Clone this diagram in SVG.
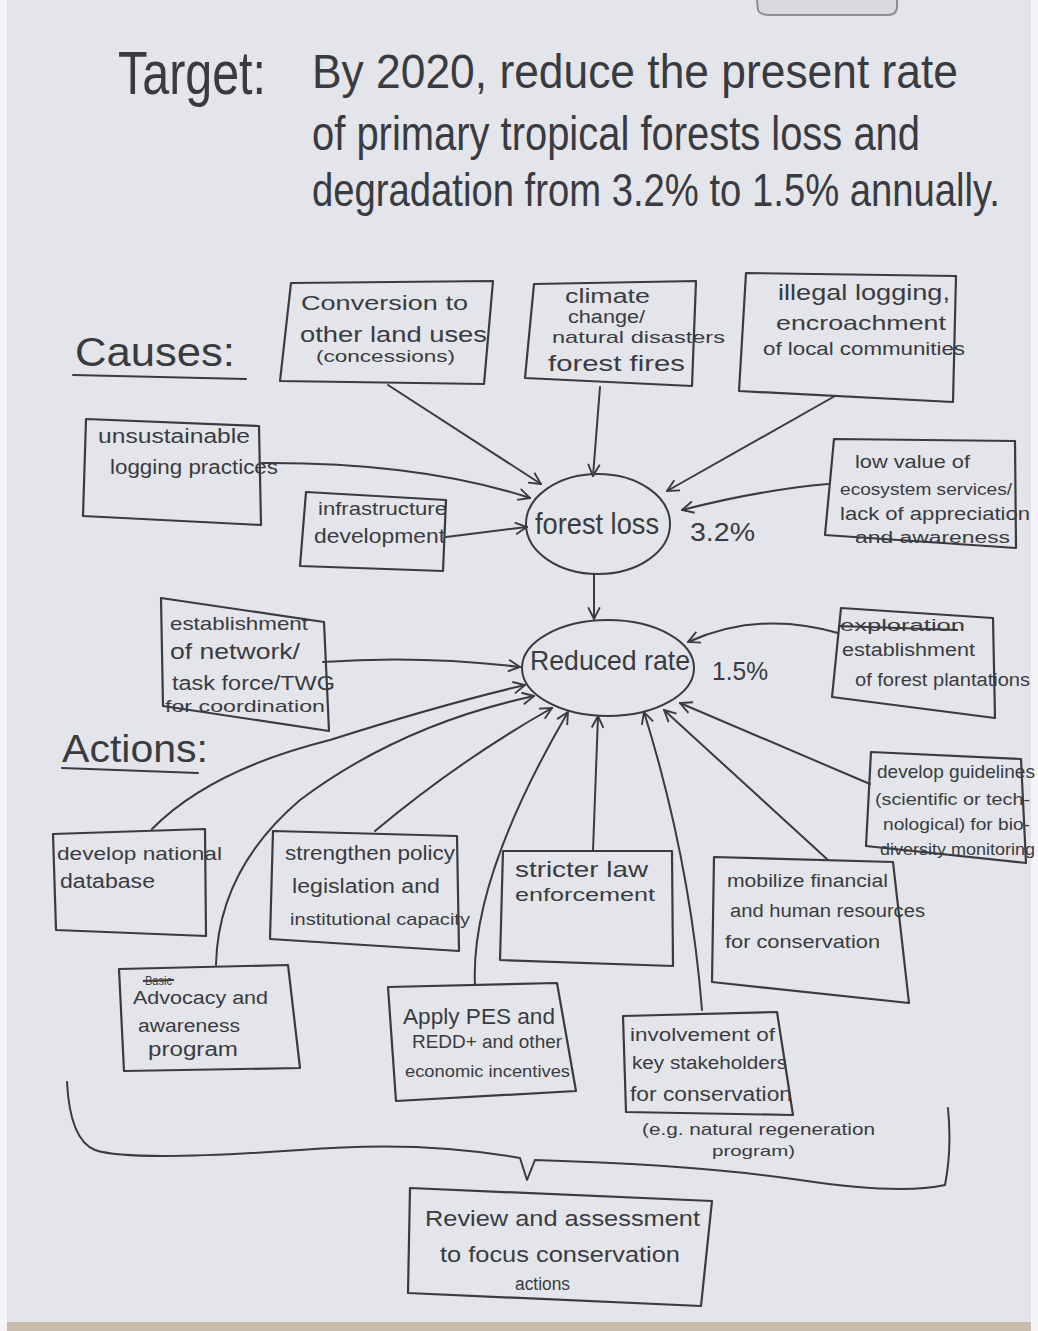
<svg xmlns="http://www.w3.org/2000/svg" width="1038" height="1331" viewBox="0 0 1038 1331">
  <style>
    .ink { fill: none; stroke: #3a3b40; stroke-width: 2; stroke-linejoin: round; stroke-linecap: round; }
    .box { fill: none; stroke: #3a3b40; stroke-width: 2.2; stroke-linejoin: round; }
    .t { font-family: "Liberation Sans", "DejaVu Sans", sans-serif; fill: #3a3b40; }
    .strike { stroke: #3a3b40; stroke-width: 2; }
  </style>
  <defs>
    <marker id="arrow" viewBox="0 0 12 12" refX="11" refY="6" markerWidth="14" markerHeight="14" markerUnits="userSpaceOnUse" orient="auto">
      <path d="M1,1 L11,6 L1,11" fill="none" stroke="#3a3b40" stroke-width="1.6"/>
    </marker>
  </defs>

  <!-- paper -->
  <rect x="0" y="0" width="1038" height="1331" fill="#f4f4f6"/>
  <rect x="7" y="0" width="1024" height="1324" fill="#e3e5ea"/>
  <rect x="7" y="1322" width="1024" height="9" fill="#c9bcad"/>
  <!-- clip holding the sheet at the top edge -->
  <path d="M757,0 L758,10 Q760,15 770,15 L888,15 Q896,15 897,8 L897,0" fill="#d9dadd" stroke="#8d8e92" stroke-width="2"/>

  <!-- heading -->
  <g id="target">
    <text class="t" x="118" y="94" font-size="62" textLength="148" lengthAdjust="spacingAndGlyphs">Target:</text>
    <text class="t" transform="translate(312,88) scale(1,1.25)" font-size="38" textLength="646" lengthAdjust="spacingAndGlyphs">By 2020, reduce the present rate</text>
    <text class="t" transform="translate(312,150) scale(1,1.25)" font-size="38" textLength="608" lengthAdjust="spacingAndGlyphs">of primary tropical forests loss and</text>
    <text class="t" transform="translate(312,206) scale(1,1.25)" font-size="37" textLength="688" lengthAdjust="spacingAndGlyphs">degradation from 3.2% to 1.5% annually.</text>
  </g>

  <!-- section labels -->
  <g id="causes-label">
    <text class="t" x="75" y="366" font-size="40" textLength="160" lengthAdjust="spacingAndGlyphs">Causes:</text>
    <path class="ink" d="M73,375 L246,379"/>
  </g>
  <g id="actions-label">
    <text class="t" x="62" y="762" font-size="38" textLength="146" lengthAdjust="spacingAndGlyphs">Actions:</text>
    <path class="ink" d="M62,768 L198,773"/>
  </g>

  <!-- cause nodes -->
  <g id="conversion">
    <path class="box" d="M291,283 L493,281 L484,384 L280,381 Z"/>
    <text class="t" x="301" y="310" font-size="21" textLength="167" lengthAdjust="spacingAndGlyphs">Conversion to</text>
    <text class="t" x="300" y="342" font-size="22" textLength="187" lengthAdjust="spacingAndGlyphs">other land uses</text>
    <text class="t" x="316" y="362" font-size="16" textLength="139" lengthAdjust="spacingAndGlyphs">(concessions)</text>
  </g>
  <g id="climate">
    <path class="box" d="M534,284 L696,281 L692,386 L525,378 Z"/>
    <text class="t" x="565" y="303" font-size="20" textLength="85" lengthAdjust="spacingAndGlyphs">climate</text>
    <text class="t" x="568" y="323" font-size="18" textLength="77" lengthAdjust="spacingAndGlyphs">change/</text>
    <text class="t" x="552" y="343" font-size="17" textLength="173" lengthAdjust="spacingAndGlyphs">natural disasters</text>
    <text class="t" x="548" y="371" font-size="22" textLength="137" lengthAdjust="spacingAndGlyphs">forest fires</text>
  </g>
  <g id="illegal">
    <path class="box" d="M746,273 L956,276 L953,402 L739,391 Z"/>
    <text class="t" x="778" y="300" font-size="22" textLength="172" lengthAdjust="spacingAndGlyphs">illegal logging,</text>
    <text class="t" x="776" y="330" font-size="21" textLength="170" lengthAdjust="spacingAndGlyphs">encroachment</text>
    <text class="t" x="763" y="355" font-size="18" textLength="202" lengthAdjust="spacingAndGlyphs">of local communities</text>
  </g>
  <g id="unsustainable">
    <path class="box" d="M86,419 L259,426 L261,525 L83,516 Z"/>
    <text class="t" x="98" y="443" font-size="20" textLength="152" lengthAdjust="spacingAndGlyphs">unsustainable</text>
    <text class="t" x="110" y="474" font-size="20" textLength="168" lengthAdjust="spacingAndGlyphs">logging practices</text>
  </g>
  <g id="infrastructure">
    <path class="box" d="M306,492 L446,500 L443,571 L300,566 Z"/>
    <text class="t" x="318" y="515" font-size="18" textLength="129" lengthAdjust="spacingAndGlyphs">infrastructure</text>
    <text class="t" x="314" y="543" font-size="20" textLength="131" lengthAdjust="spacingAndGlyphs">development</text>
  </g>
  <g id="low-value">
    <path class="box" d="M834,439 L1015,441 L1016,548 L825,535 Z"/>
    <text class="t" x="855" y="468" font-size="19" textLength="115" lengthAdjust="spacingAndGlyphs">low value of</text>
    <text class="t" x="840" y="495" font-size="17" textLength="172" lengthAdjust="spacingAndGlyphs">ecosystem services/</text>
    <text class="t" x="840" y="520" font-size="19" textLength="190" lengthAdjust="spacingAndGlyphs">lack of appreciation</text>
    <text class="t" x="855" y="543" font-size="16" textLength="155" lengthAdjust="spacingAndGlyphs">and awareness</text>
  </g>

  <!-- central ellipses -->
  <g id="forest-loss">
    <ellipse class="ink" cx="598" cy="524" rx="72" ry="50"/>
    <text class="t" x="535" y="534" font-size="30" textLength="124" lengthAdjust="spacingAndGlyphs">forest loss</text>
    <text class="t" x="690" y="541" font-size="26" textLength="65" lengthAdjust="spacingAndGlyphs">3.2%</text>
  </g>
  <g id="reduced-rate">
    <ellipse class="ink" cx="608" cy="668" rx="86" ry="48"/>
    <text class="t" x="530" y="670" font-size="28" textLength="160" lengthAdjust="spacingAndGlyphs">Reduced rate</text>
    <text class="t" x="712" y="680" font-size="26" textLength="56" lengthAdjust="spacingAndGlyphs">1.5%</text>
  </g>

  <!-- action nodes -->
  <g id="network">
    <path class="box" d="M161,598 L324,622 L329,731 L163,706 Z"/>
    <text class="t" x="170" y="630" font-size="19" textLength="138" lengthAdjust="spacingAndGlyphs">establishment</text>
    <text class="t" x="170" y="659" font-size="22" textLength="130" lengthAdjust="spacingAndGlyphs">of network/</text>
    <text class="t" x="172" y="690" font-size="20" textLength="163" lengthAdjust="spacingAndGlyphs">task force/TWG</text>
    <text class="t" x="165" y="712" font-size="17" textLength="160" lengthAdjust="spacingAndGlyphs">for coordination</text>
  </g>
  <g id="plantations">
    <path class="box" d="M841,608 L993,618 L995,718 L832,697 Z"/>
    <text class="t" x="840" y="631" font-size="16" textLength="125" lengthAdjust="spacingAndGlyphs">exploration</text>
    <path class="strike" d="M838,626 L958,630"/>
    <text class="t" x="842" y="656" font-size="18" textLength="133" lengthAdjust="spacingAndGlyphs">establishment</text>
    <text class="t" x="855" y="686" font-size="18" textLength="175" lengthAdjust="spacingAndGlyphs">of forest plantations</text>
  </g>
  <g id="guidelines">
    <path class="box" d="M871,752 L1021,759 L1026,863 L866,846 Z"/>
    <text class="t" x="877" y="778" font-size="19" textLength="158" lengthAdjust="spacingAndGlyphs">develop guidelines</text>
    <text class="t" x="875" y="805" font-size="17" textLength="155" lengthAdjust="spacingAndGlyphs">(scientific or tech-</text>
    <text class="t" x="883" y="830" font-size="17" textLength="147" lengthAdjust="spacingAndGlyphs">nological) for bio-</text>
    <text class="t" x="880" y="855" font-size="17" textLength="155" lengthAdjust="spacingAndGlyphs">diversity monitoring</text>
  </g>
  <g id="database">
    <path class="box" d="M53,834 L205,829 L206,936 L56,930 Z"/>
    <text class="t" x="57" y="860" font-size="19" textLength="165" lengthAdjust="spacingAndGlyphs">develop national</text>
    <text class="t" x="60" y="888" font-size="20" textLength="95" lengthAdjust="spacingAndGlyphs">database</text>
  </g>
  <g id="policy">
    <path class="box" d="M273,831 L457,836 L459,951 L270,939 Z"/>
    <text class="t" x="285" y="860" font-size="20" textLength="170" lengthAdjust="spacingAndGlyphs">strengthen policy</text>
    <text class="t" x="292" y="893" font-size="20" textLength="148" lengthAdjust="spacingAndGlyphs">legislation and</text>
    <text class="t" x="290" y="925" font-size="17" textLength="180" lengthAdjust="spacingAndGlyphs">institutional capacity</text>
  </g>
  <g id="law">
    <path class="box" d="M503,851 L672,851 L673,966 L500,960 Z"/>
    <text class="t" x="515" y="877" font-size="22" textLength="133" lengthAdjust="spacingAndGlyphs">stricter law</text>
    <text class="t" x="515" y="901" font-size="19" textLength="140" lengthAdjust="spacingAndGlyphs">enforcement</text>
  </g>
  <g id="mobilize">
    <path class="box" d="M714,857 L893,862 L909,1003 L712,982 Z"/>
    <text class="t" x="727" y="887" font-size="18" textLength="161" lengthAdjust="spacingAndGlyphs">mobilize financial</text>
    <text class="t" x="730" y="917" font-size="18" textLength="195" lengthAdjust="spacingAndGlyphs">and human resources</text>
    <text class="t" x="725" y="948" font-size="19" textLength="155" lengthAdjust="spacingAndGlyphs">for conservation</text>
  </g>
  <g id="advocacy">
    <path class="box" d="M119,969 L288,965 L300,1068 L124,1071 Z"/>
    <text class="t" x="145" y="985" font-size="12" textLength="27" lengthAdjust="spacingAndGlyphs">Basic</text>
    <path class="strike" d="M143,981 L174,980"/>
    <text class="t" x="133" y="1004" font-size="18" textLength="135" lengthAdjust="spacingAndGlyphs">Advocacy and</text>
    <text class="t" x="138" y="1032" font-size="18" textLength="102" lengthAdjust="spacingAndGlyphs">awareness</text>
    <text class="t" x="148" y="1056" font-size="20" textLength="90" lengthAdjust="spacingAndGlyphs">program</text>
  </g>
  <g id="pes">
    <path class="box" d="M388,987 L557,983 L576,1091 L396,1101 Z"/>
    <text class="t" x="403" y="1024" font-size="22" textLength="152" lengthAdjust="spacingAndGlyphs">Apply PES and</text>
    <text class="t" x="412" y="1048" font-size="18" textLength="150" lengthAdjust="spacingAndGlyphs">REDD+ and other</text>
    <text class="t" x="405" y="1077" font-size="16" textLength="165" lengthAdjust="spacingAndGlyphs">economic incentives</text>
  </g>
  <g id="stakeholders">
    <path class="box" d="M623,1016 L777,1012 L793,1115 L626,1112 Z"/>
    <text class="t" x="630" y="1041" font-size="18" textLength="145" lengthAdjust="spacingAndGlyphs">involvement of</text>
    <text class="t" x="632" y="1069" font-size="18" textLength="155" lengthAdjust="spacingAndGlyphs">key stakeholders</text>
    <text class="t" x="630" y="1101" font-size="20" textLength="162" lengthAdjust="spacingAndGlyphs">for conservation</text>
    <text class="t" x="642" y="1135" font-size="17" textLength="233" lengthAdjust="spacingAndGlyphs">(e.g. natural regeneration</text>
    <text class="t" x="712" y="1156" font-size="15" textLength="83" lengthAdjust="spacingAndGlyphs">program)</text>
  </g>
  <g id="review">
    <path class="box" d="M410,1188 L712,1201 L701,1306 L408,1293 Z"/>
    <text class="t" x="425" y="1226" font-size="22" textLength="275" lengthAdjust="spacingAndGlyphs">Review and assessment</text>
    <text class="t" x="440" y="1262" font-size="22" textLength="240" lengthAdjust="spacingAndGlyphs">to focus conservation</text>
    <text class="t" x="515" y="1290" font-size="18" textLength="55" lengthAdjust="spacingAndGlyphs">actions</text>
  </g>

  <!-- connectors -->
  <g id="connectors" class="ink">
    <!-- causes into forest loss -->
    <path d="M388,385 L541,484" marker-end="url(#arrow)"/>
    <path d="M600,387 L593,476" marker-end="url(#arrow)"/>
    <path d="M835,396 L667,491" marker-end="url(#arrow)"/>
    <path d="M262,463 Q420,462 530,498" marker-end="url(#arrow)"/>
    <path d="M446,537 L527,527" marker-end="url(#arrow)"/>
    <path d="M828,484 Q760,490 682,510" marker-end="url(#arrow)"/>
    <!-- forest loss to reduced rate -->
    <path d="M594,575 L594,619" marker-end="url(#arrow)"/>
    <!-- actions into reduced rate -->
    <path d="M323,662 Q420,655 520,667" marker-end="url(#arrow)"/>
    <path d="M838,633 Q760,610 688,642" marker-end="url(#arrow)"/>
    <path d="M152,829 Q210,770 330,740 Q440,705 525,685" marker-end="url(#arrow)"/>
    <path d="M216,965 Q218,870 300,800 Q400,725 534,696" marker-end="url(#arrow)"/>
    <path d="M375,831 Q460,760 552,708" marker-end="url(#arrow)"/>
    <path d="M475,985 Q470,880 568,712" marker-end="url(#arrow)"/>
    <path d="M593,851 L598,716" marker-end="url(#arrow)"/>
    <path d="M702,1010 Q690,860 644,712" marker-end="url(#arrow)"/>
    <path d="M828,860 L664,710" marker-end="url(#arrow)"/>
    <path d="M870,784 L680,703" marker-end="url(#arrow)"/>
    <!-- brace gathering the actions into the review -->
    <path d="M67,1082 Q70,1140 95,1150 Q130,1162 300,1150 Q420,1140 520,1158 L527,1180 L535,1160 Q700,1165 800,1180 Q900,1195 945,1185 Q952,1150 948,1108"/>
  </g>
</svg>
